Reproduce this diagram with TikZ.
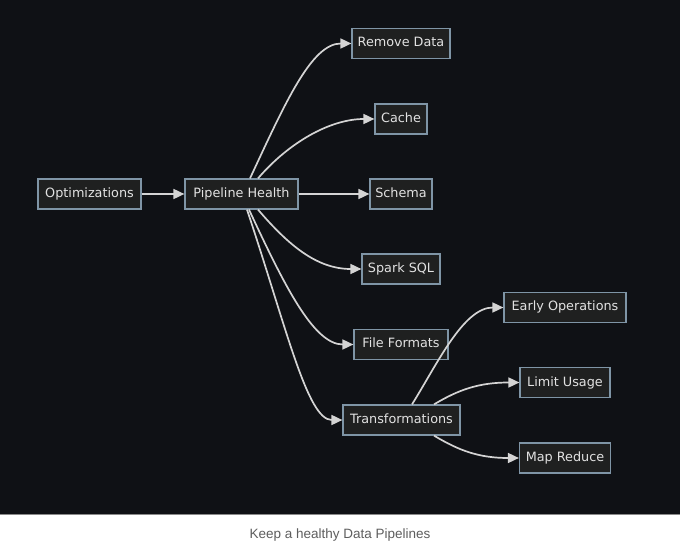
\documentclass[tikz,border=0pt]{standalone}
\usepackage{fontspec}
\usetikzlibrary{arrows.meta}
\newfontfamily\nodefont{DejaVu Sans}
\newfontfamily\capfont{Liberation Sans}
\definecolor{bgdark}{HTML}{0F1115}
\definecolor{nodefill}{HTML}{1F2020}
\definecolor{nodeborder}{HTML}{7F95A6}
\definecolor{nodetext}{HTML}{E2E2E2}
\definecolor{edgecol}{HTML}{D4D4D4}
\definecolor{captext}{HTML}{5E5E5E}
\definecolor{sepline}{HTML}{8A8A8A}
\tikzset{
  box/.style={draw=nodeborder, fill=nodefill, line width=1.2pt, text=nodetext,
    font=\nodefont\fontsize{12.8}{15}\selectfont, minimum height=30pt, inner sep=0pt,
    text height=9.5pt, text depth=2.5pt},
  link/.style={draw=edgecol, line width=1.7pt, -{Triangle[length=11pt,width=10pt]}}
}
\begin{document}
\begin{tikzpicture}[x=1pt,y=-1pt]
\useasboundingbox (0,0) rectangle (680,545);
\fill[white] (0,0) rectangle (680,545);
\fill[bgdark] (0,0) rectangle (680,514);
\draw[sepline, line width=1pt] (0,514) -- (680,514);

\node[box, minimum width=103pt] (opt) at (89.5,194) {Optimizations};
\node[box, minimum width=113pt] (ph) at (241.5,194) {Pipeline Health};
\node[box, minimum width=98pt] (rd) at (401,43.5) {Remove Data};
\node[box, minimum width=52pt] (ca) at (401,119) {Cache};
\node[box, minimum width=62pt] (sc) at (401,194) {Schema};
\node[box, minimum width=78pt] (ss) at (401,269) {Spark SQL};
\node[box, minimum width=94pt] (ff) at (401,344.5) {File Formats};
\node[box, minimum width=117pt] (tr) at (401.5,420) {Transformations};
\node[box, minimum width=122pt] (eo) at (565,307.5) {Early Operations};
\node[box, minimum width=90pt] (lu) at (565,382.5) {Limit Usage};
\node[box, minimum width=91pt] (mr) at (565,458) {Map Reduce};

\draw[link] (opt) -- (ph);
\draw[link] (ph) -- (sc);
\draw[link] ([xshift=8.5pt]ph.north) .. controls +(35,-75) and +(-40,0) .. (rd.west);
\draw[link] ([xshift=16.5pt]ph.north) .. controls +(30,-35) and +(-45,0) .. (ca.west);
\draw[link] ([xshift=16.5pt]ph.south) .. controls +(30,35) and +(-45,0) .. (ss.west);
\draw[link] ([xshift=7.5pt]ph.south) .. controls +(35,75) and +(-40,0) .. (ff.west);
\draw[link] ([xshift=5.5pt]ph.south) .. controls +(40,120) and +(-35,0) .. (tr.west);
\draw[link] ([xshift=10.5pt]tr.north) .. controls +(25,-40) and +(-40,0) .. (eo.west);
\draw[link] ([xshift=32.5pt]tr.north) .. controls +(25,-15) and +(-40,0) .. (lu.west);
\draw[link] ([xshift=32.5pt]tr.south) .. controls +(25,15) and +(-40,0) .. (mr.west);

\node[text=captext, font=\capfont\fontsize{13.5}{16}\selectfont] (cap) at (340,535) {Keep a healthy Data Pipelines};
\end{tikzpicture}
\end{document}
